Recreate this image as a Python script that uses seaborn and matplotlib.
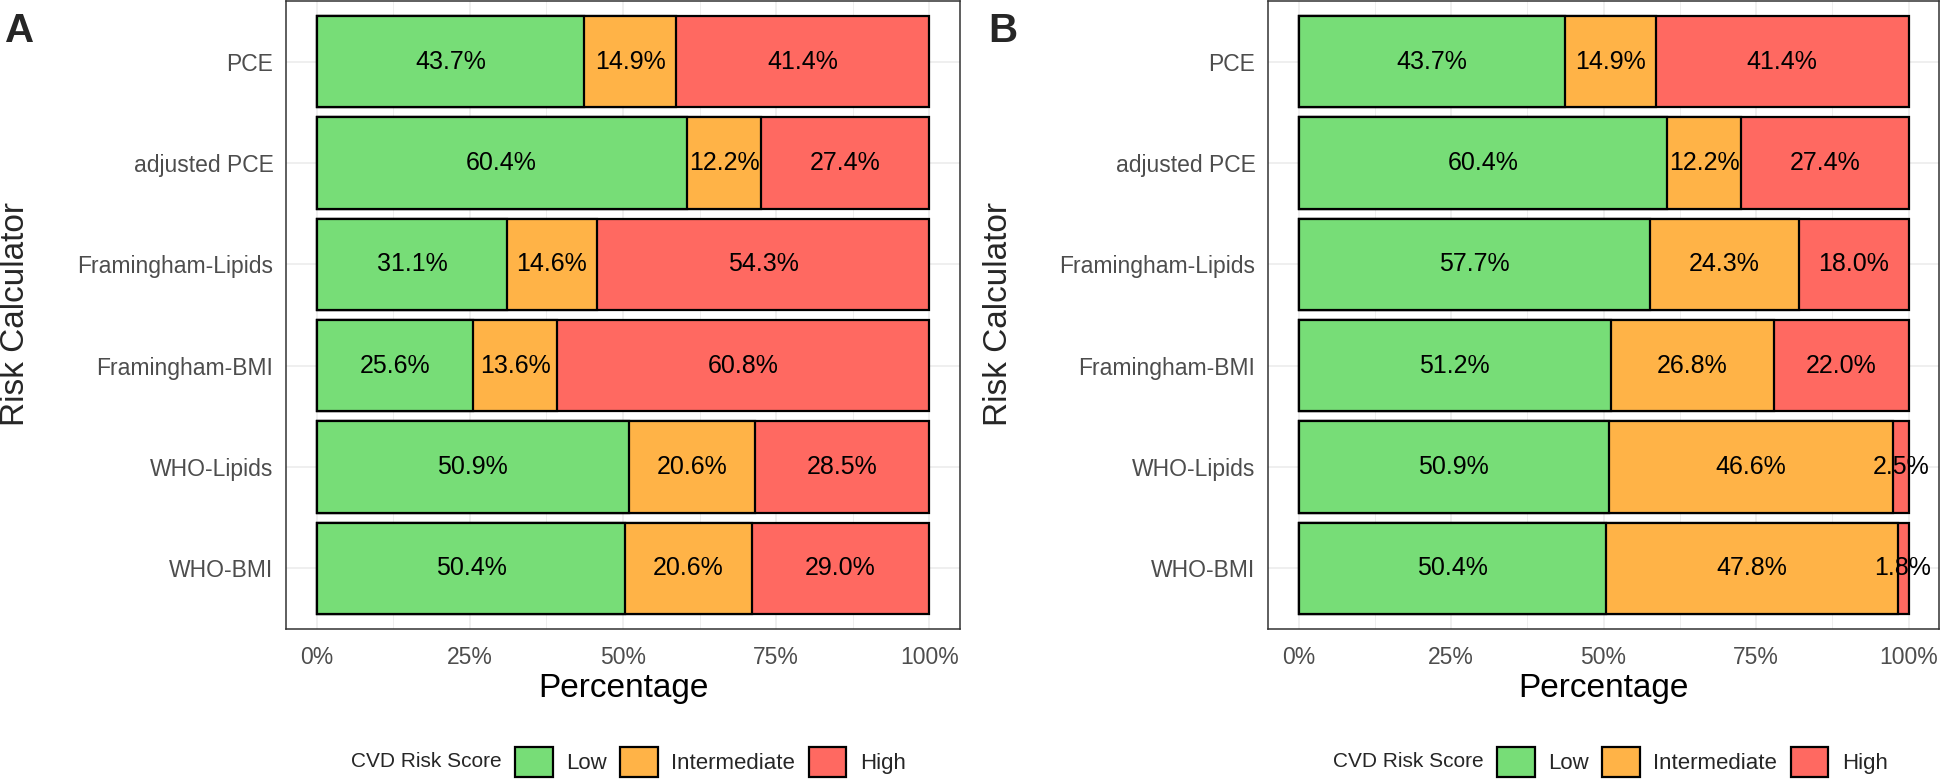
import numpy as np
import pandas as pd
import matplotlib
matplotlib.use("Agg")
import matplotlib.pyplot as plt
from matplotlib.patches import Patch
import seaborn as sns

sns.set_theme(style="white")
plt.rcParams['font.family'] = ['Liberation Sans', 'DejaVu Sans']

calculators = ["PCE", "adjusted PCE", "Framingham-Lipids", "Framingham-BMI",
               "WHO-Lipids", "WHO-BMI"]
levels = ["Low", "Intermediate", "High"]
colors = {"Low": "#77DD77", "Intermediate": "#FFB347", "High": "#FF6961"}

# panel A
low_a = [43.7, 60.4, 31.1, 25.6, 50.9, 50.4]
mid_a = [14.9, 12.2, 14.6, 13.6, 20.6, 20.6]
high_a = [41.4, 27.4, 54.3, 60.8, 28.5, 29.0]
# panel B
low_b = [43.7, 60.4, 57.7, 51.2, 50.9, 50.4]
mid_b = [14.9, 12.2, 24.3, 26.8, 46.6, 47.8]
high_b = [41.4, 27.4, 18.0, 22.0, 2.5, 1.8]

panels = [("A", low_a, mid_a, high_a), ("B", low_b, mid_b, high_b)]

fig = plt.figure(figsize=(19.44, 7.83), dpi=100)
ax_pos = [[286 / 1944, 1 - 629 / 783, 674 / 1944, 628 / 783],
          [1268 / 1944, 1 - 629 / 783, 671 / 1944, 628 / 783]]
letter_x = [5 / 1944, 988 / 1944]
ylab_x = [16 / 1944, 998 / 1944]
legend_x = [502 / 1944, 1484 / 1944]

for k, (letter, low, mid, high) in enumerate(panels):
    ax = fig.add_axes(ax_pos[k])
    df = pd.DataFrame({"calc": calculators, "Low": low,
                       "Intermediate": mid, "High": high})
    df["c_low"] = df["Low"]
    df["c_mid"] = df["Low"] + df["Intermediate"]
    df["c_high"] = df["c_mid"] + df["High"]

    # stacked bars drawn back to front
    for col, lev in [("c_high", "High"), ("c_mid", "Intermediate"), ("c_low", "Low")]:
        sns.barplot(data=df, x=col, y="calc", order=calculators, orient="h",
                    color=colors[lev], edgecolor="black", linewidth=1.6,
                    width=0.9, saturation=1, ax=ax)

    for i, row in df.iterrows():
        starts = [0, row["c_low"], row["c_mid"]]
        for s, lev in zip(starts, levels):
            v = row[lev]
            ax.text(s + v / 2, i, f"{v:.1f}%", ha="center", va="center",
                    fontsize=18, color="black", zorder=10)

    ax.set_xlim(-5, 105)
    ax.set_ylim(len(calculators) - 0.4, -0.6)
    ax.set_xticks([0, 25, 50, 75, 100])
    ax.set_xticklabels(["0%", "25%", "50%", "75%", "100%"])
    ax.set_xticks([12.5, 37.5, 62.5, 87.5], minor=True)
    ax.grid(True, which="major", color="#EBEBEB", lw=1.1)
    ax.grid(True, which="minor", axis="x", color="#EBEBEB", lw=0.6)
    ax.set_axisbelow(True)
    ax.tick_params(axis="both", which="major", labelsize=16.5, colors="#4D4D4D",
                   length=5, width=1.1, color="#333333", pad=4)
    ax.tick_params(axis="both", which="minor", length=0)
    ax.tick_params(axis="x", pad=7)
    for sp in ax.spines.values():
        sp.set_color("#333333")
        sp.set_linewidth(1.1)
    ax.set_xlabel("Percentage", fontsize=24, color="black", labelpad=3)
    ax.set_ylabel("")
    fig.text(ylab_x[k], 0.5996, "Risk Calculator", fontsize=24, rotation=90,
             ha="center", va="center")

    fig.text(letter_x[k], 0.985, letter, fontsize=29, fontweight="bold",
             va="top", ha="left")

    fig.text(legend_x[k], 0.027, "CVD Risk Score", fontsize=15,
             ha="right", va="center")
    handles = [Patch(facecolor=colors[l], edgecolor="black", lw=1.6, label=l)
               for l in levels]
    fig.legend(handles=handles, loc="center left",
               bbox_to_anchor=(legend_x[k] + 13 / 1944, 0.027), ncol=3,
               frameon=False, fontsize=16, handlelength=1.7, handleheight=1.7,
               handletextpad=0.6, columnspacing=0.6, borderpad=0,
               borderaxespad=0)

fig.savefig("out.png", dpi=100)
